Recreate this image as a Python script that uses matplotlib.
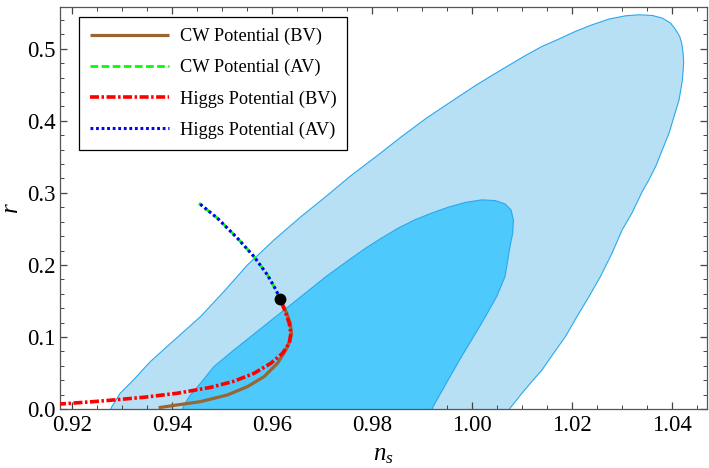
import matplotlib
matplotlib.use("Agg")
import matplotlib.pyplot as plt
from matplotlib.patches import Polygon
from matplotlib.ticker import MultipleLocator, FixedLocator

plt.rcParams['font.family'] = ['Liberation Serif', 'DejaVu Serif']
plt.rcParams['mathtext.fontset'] = 'custom'
plt.rcParams['mathtext.it'] = 'Liberation Serif:italic'
plt.rcParams['mathtext.rm'] = 'Liberation Serif'
plt.rcParams['lines.scale_dashes'] = False

# Planck-like contours (n_s, r)
outer_ns = [0.9265, 0.92797, 0.92964, 0.9323, 0.93566, 0.9390, 0.94235, 0.9457, 0.95038,
            0.9551, 0.96042, 0.9658, 0.97097, 0.9758, 0.98084, 0.9859, 0.99088, 0.9959,
            1.00092, 1.0059, 1.01096, 1.01398, 1.01733, 1.02066, 1.02402, 1.02737,
            1.03070, 1.03339, 1.03606, 1.03807, 1.03974, 1.04075, 1.04155, 1.04195,
            1.04223, 1.04235, 1.04209, 1.04143, 1.04042, 1.03942, 1.03807, 1.03673,
            1.03540, 1.03406, 1.0320, 1.03004, 1.0280, 1.02569, 1.0234, 1.0210, 1.0187,
            1.01632, 1.0140, 1.01197, 1.0100, 1.0075, 1.0060]
outer_r = [-0.02, 0.0032, 0.0218, 0.0403, 0.0657, 0.0866, 0.1074, 0.1282, 0.1630,
           0.2000, 0.2347, 0.2670, 0.2960, 0.3240, 0.3505, 0.3780, 0.4037, 0.4270,
           0.4500, 0.4710, 0.4917, 0.5032, 0.5134, 0.5241, 0.5333, 0.5412,
           0.5458, 0.5472, 0.5463, 0.5426, 0.5356, 0.5264, 0.5171, 0.5079,
           0.4940, 0.4801, 0.4569, 0.4292, 0.4060, 0.3829, 0.3597, 0.3365,
           0.3181, 0.3018, 0.2720, 0.2486, 0.2160, 0.1838, 0.1560, 0.1282, 0.1005,
           0.0773, 0.0540, 0.0380, 0.0218, 0.0000, -0.02]

inner_ns = [0.9410, 0.9424, 0.94369, 0.9457, 0.94837, 0.9524, 0.95910, 0.9658, 0.97080,
            0.9758, 0.97880, 0.98185, 0.98520, 0.98854, 0.99189, 0.99524, 0.99858,
            1.00193, 1.00460, 1.00661, 1.00781, 1.00829, 1.00815, 1.00761, 1.00661,
            1.00494, 1.00193, 0.99992, 0.99791, 0.99524, 0.99223, 0.9910]
inner_r = [-0.02, 0.0056, 0.0194, 0.0356, 0.0588, 0.0820, 0.1190, 0.1560, 0.1838,
           0.2090, 0.2235, 0.2370, 0.2509, 0.2625, 0.2718, 0.2801, 0.2866,
           0.2903, 0.2894, 0.2847, 0.2764, 0.2625, 0.2440, 0.2255, 0.1838,
           0.1560, 0.1190, 0.0958, 0.0727, 0.0403, 0.0032, -0.02]

# model predictions
cw_bv_ns = [0.93733, 0.94102, 0.94570, 0.95106, 0.95508, 0.95842, 0.96110, 0.96277,
            0.96364, 0.96390, 0.96365, 0.96295, 0.96220, 0.9616]
cw_bv_r = [0.0018, 0.0056, 0.0102, 0.0194, 0.0310, 0.0449, 0.0634, 0.0819,
           0.0958, 0.1051, 0.1190, 0.1329, 0.1444, 0.1528]

higgs_bv_ns = [0.9170, 0.92428, 0.92829, 0.93432, 0.94102, 0.94771, 0.95239, 0.95641,
               0.95976, 0.96211, 0.96345, 0.96378, 0.96345, 0.96277, 0.96211, 0.9616]
higgs_bv_r = [0.0066, 0.0102, 0.0125, 0.0162, 0.0218, 0.0300, 0.0385, 0.0495,
              0.0634, 0.0773, 0.0912, 0.1051, 0.1190, 0.1329, 0.1444, 0.1528]

cw_av_ns = [0.9616, 0.9608, 0.9591, 0.9564, 0.9531, 0.9491, 0.9454]
cw_av_r = [0.1528, 0.1653, 0.1861, 0.2116, 0.2370, 0.2648, 0.2857]
higgs_av_ns = [0.9616, 0.9608, 0.9591, 0.9564, 0.9531, 0.9491, 0.9454]
higgs_av_r = [0.1528, 0.1653, 0.1861, 0.2116, 0.2370, 0.2648, 0.2857]

point_ns = [0.9616]
point_r = [0.1528]

x_ticks = [0.92, 0.94, 0.96, 0.98, 1.00, 1.02, 1.04]
x_labels = ["0.92", "0.94", "0.96", "0.98", "1.00", "1.02", "1.04"]
y_ticks = [0.0, 0.1, 0.2, 0.3, 0.4, 0.5]
y_labels = ["0.0", "0.1", "0.2", "0.3", "0.4", "0.5"]

fig = plt.figure(figsize=(7.09, 4.68), dpi=100)
ax = fig.add_axes([0.0846, 0.1261, 0.9125, 0.8589])

ax.add_patch(Polygon(list(zip(outer_ns, outer_r)), closed=True, facecolor='#b8e0f4',
                     edgecolor='#2aa8f0', linewidth=0.8, joinstyle='round', zorder=1))
ax.add_patch(Polygon(list(zip(inner_ns, inner_r)), closed=True, facecolor='#4dc9fc',
                     edgecolor='#2aa8f0', linewidth=0.8, joinstyle='round', zorder=2))

ax.plot(cw_bv_ns, cw_bv_r, color='#996633', lw=2.3, solid_capstyle='butt',
        solid_joinstyle='round', label='CW Potential (BV)', zorder=3)
ax.plot(cw_av_ns, cw_av_r, color='#00ff00', lw=2.0, linestyle=(0, (5.5, 2.5)),
        label='CW Potential (AV)', zorder=4)
ax.plot(higgs_bv_ns, higgs_bv_r, color='#ff0000', lw=2.6,
        linestyle=(0, (6.5, 1.8, 1.8, 1.8)), label='Higgs Potential (BV)', zorder=5)
ax.plot(higgs_av_ns, higgs_av_r, color='#0000ff', lw=2.2, linestyle=(0, (2.0, 2.0)),
        label='Higgs Potential (AV)', zorder=6)
ax.plot(point_ns, point_r, 'o', color='black', markersize=7.5, zorder=7)

ax.set_xlim(0.9176, 1.047)
ax.set_ylim(0.0, 0.558)

ax.xaxis.set_major_locator(FixedLocator(x_ticks))
ax.set_xticklabels(x_labels)
ax.yaxis.set_major_locator(FixedLocator(y_ticks))
ax.set_yticklabels(y_labels)
ax.xaxis.set_minor_locator(MultipleLocator(0.005))
ax.yaxis.set_minor_locator(MultipleLocator(0.02))
ax.tick_params(which='both', direction='in', top=True, right=True, color='#444444',
               labelsize=16.5)
ax.tick_params(which='major', length=5, width=0.9)
ax.tick_params(which='minor', length=3, width=0.7)
ax.tick_params(axis='x', pad=4)
ax.tick_params(axis='y', pad=3)
for s in ax.spines.values():
    s.set_color('#555555')
    s.set_linewidth(0.9)

ax.set_xlabel(r'$n_s$', fontsize=18, labelpad=6)
ax.set_ylabel(r'$r$', fontsize=18, labelpad=3)

leg = ax.legend(loc='upper left', bbox_to_anchor=(0.029, 0.975), borderaxespad=0,
                fontsize=13.2, handlelength=4.3, handletextpad=0.6, labelspacing=0.75,
                borderpad=0.6, fancybox=False, framealpha=1, edgecolor='black')
leg.get_frame().set_linewidth(0.9)

fig.savefig('out.png', dpi=100)
